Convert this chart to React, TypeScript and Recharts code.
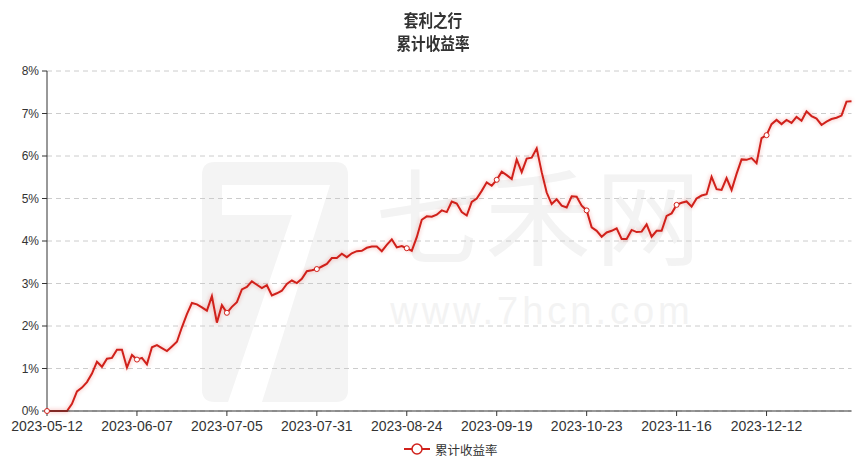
import React from 'react';
import { LineChart, Line, XAxis, YAxis, CartesianGrid } from 'recharts';

const titleLines = ['套利之行', '累计收益率'];
const seriesName = '累计收益率';

const dates = [
  '2023-05-12', '2023-05-15', '2023-05-16', '2023-05-17', '2023-05-18', '2023-05-19',
  '2023-05-22', '2023-05-23', '2023-05-24', '2023-05-25', '2023-05-26',
  '2023-05-29', '2023-05-30', '2023-05-31', '2023-06-01', '2023-06-02',
  '2023-06-05', '2023-06-06', '2023-06-07', '2023-06-08', '2023-06-09',
  '2023-06-12', '2023-06-13', '2023-06-14', '2023-06-15', '2023-06-16',
  '2023-06-19', '2023-06-20', '2023-06-21',
  '2023-06-26', '2023-06-27', '2023-06-28', '2023-06-29', '2023-06-30',
  '2023-07-03', '2023-07-04', '2023-07-05', '2023-07-06', '2023-07-07',
  '2023-07-10', '2023-07-11', '2023-07-12', '2023-07-13', '2023-07-14',
  '2023-07-17', '2023-07-18', '2023-07-19', '2023-07-20', '2023-07-21',
  '2023-07-24', '2023-07-25', '2023-07-26', '2023-07-27', '2023-07-28',
  '2023-07-31', '2023-08-01', '2023-08-02', '2023-08-03', '2023-08-04',
  '2023-08-07', '2023-08-08', '2023-08-09', '2023-08-10', '2023-08-11',
  '2023-08-14', '2023-08-15', '2023-08-16', '2023-08-17', '2023-08-18',
  '2023-08-21', '2023-08-22', '2023-08-23', '2023-08-24', '2023-08-25',
  '2023-08-28', '2023-08-29', '2023-08-30', '2023-08-31', '2023-09-01',
  '2023-09-04', '2023-09-05', '2023-09-06', '2023-09-07', '2023-09-08',
  '2023-09-11', '2023-09-12', '2023-09-13', '2023-09-14', '2023-09-15',
  '2023-09-18', '2023-09-19', '2023-09-20', '2023-09-21', '2023-09-22',
  '2023-09-25', '2023-09-26', '2023-09-27', '2023-09-28',
  '2023-10-09', '2023-10-10', '2023-10-11', '2023-10-12', '2023-10-13',
  '2023-10-16', '2023-10-17', '2023-10-18', '2023-10-19', '2023-10-20',
  '2023-10-23', '2023-10-24', '2023-10-25', '2023-10-26', '2023-10-27',
  '2023-10-30', '2023-10-31', '2023-11-01', '2023-11-02', '2023-11-03',
  '2023-11-06', '2023-11-07', '2023-11-08', '2023-11-09', '2023-11-10',
  '2023-11-13', '2023-11-14', '2023-11-15', '2023-11-16', '2023-11-17',
  '2023-11-20', '2023-11-21', '2023-11-22', '2023-11-23', '2023-11-24',
  '2023-11-27', '2023-11-28', '2023-11-29', '2023-11-30', '2023-12-01',
  '2023-12-04', '2023-12-05', '2023-12-06', '2023-12-07', '2023-12-08',
  '2023-12-11', '2023-12-12', '2023-12-13', '2023-12-14', '2023-12-15',
  '2023-12-18', '2023-12-19', '2023-12-20', '2023-12-21', '2023-12-22',
  '2023-12-25', '2023-12-26', '2023-12-27', '2023-12-28', '2023-12-29',
  '2024-01-02', '2024-01-03', '2024-01-04', '2024-01-05',
];

const returns = [
  0, 0, 0, 0, 0, 0.17, 0.46, 0.55, 0.68, 0.88,
  1.16, 1.04, 1.23, 1.25, 1.44, 1.44, 1.02, 1.32, 1.21, 1.25,
  1.10, 1.50, 1.55, 1.48, 1.41, 1.52, 1.63, 1.97, 2.28, 2.54,
  2.51, 2.44, 2.36, 2.70, 2.08, 2.49, 2.31, 2.45, 2.56, 2.86,
  2.92, 3.05, 2.97, 2.89, 2.96, 2.72, 2.77, 2.83, 2.99, 3.07,
  3.01, 3.11, 3.29, 3.31, 3.34, 3.40, 3.46, 3.60, 3.60, 3.70,
  3.62, 3.71, 3.76, 3.77, 3.84, 3.87, 3.87, 3.76, 3.91, 4.04,
  3.85, 3.88, 3.83, 3.77, 4.09, 4.50, 4.58, 4.57, 4.62, 4.72,
  4.68, 4.93, 4.88, 4.68, 4.60, 4.92, 5.00, 5.18, 5.38, 5.30,
  5.44, 5.63, 5.55, 5.46, 5.92, 5.62, 5.94, 5.96, 6.18, 5.62,
  5.14, 4.87, 4.98, 4.83, 4.79, 5.05, 5.04, 4.83, 4.72, 4.32,
  4.24, 4.10, 4.20, 4.24, 4.30, 4.05, 4.05, 4.26, 4.21, 4.22,
  4.39, 4.10, 4.24, 4.24, 4.59, 4.65, 4.85, 4.90, 4.93, 4.81,
  5.00, 5.07, 5.10, 5.51, 5.22, 5.20, 5.48, 5.20, 5.58, 5.92,
  5.91, 5.95, 5.83, 6.42, 6.49, 6.75, 6.85, 6.75, 6.85, 6.78,
  6.92, 6.83, 7.05, 6.94, 6.88, 6.73, 6.81, 6.87, 6.90, 6.95,
  7.28, 7.29,
];

const yTicks = [0, 1, 2, 3, 4, 5, 6, 7, 8];

const data = dates.map((d, i) => ({ date: d, value: returns[i] }));

const RED = '#d0211b';
const FONT = '"Noto Sans CJK SC", "Noto Sans", sans-serif';
const TICK_FONT = '"Liberation Sans", Arial, sans-serif';

const MarkerDot = (props: any) => {
  const { cx, cy, index } = props;
  if (index % 18 !== 0 || cx == null) return <g key={`d${index}`} />;
  return (
    <circle key={`d${index}`} cx={cx} cy={cy} r={2.5} fill="#fff" stroke={RED} strokeWidth={1} />
  );
};

export default function App() {
  return (
    <div style={{ position: 'absolute', left: 0, top: 0, width: 866, height: 469, background: '#fff', fontFamily: FONT, overflow: 'hidden' }}>
      <style>{`.main-line .recharts-line-curve { filter: drop-shadow(0 0 2px rgba(230,60,50,0.45)); }`}</style>
      {/* watermark */}
      <svg width={866} height={469} style={{ position: 'absolute', left: 0, top: 0 }}>
        <path d="M215 162 L335 162 Q348 162 348 175 L348 390 Q348 402 336 402 L215 402 Q202 402 202 390 L202 175 Q202 162 215 162 Z" fill="#f4f4f4" />
        <path d="M222 185 L330 185 L262 402 L228 402 L292 215 L222 215 Z" fill="#ffffff" />
        <text x={540} y={257} textAnchor="middle" fontSize={106} letterSpacing={4} fill="#f3f3f3" fontFamily={FONT}>七禾网</text>
        <text x={542} y={324} textAnchor="middle" fontSize={38} letterSpacing={4} fill="#f3f3f3" fontFamily={TICK_FONT}>www.7hcn.com</text>
      </svg>
      <div style={{ position: 'absolute', left: 0, top: 0 }}>
        <LineChart width={866} height={469} data={data} margin={{ top: 71, right: 14.5, bottom: 0, left: 0 }}>
          <CartesianGrid vertical={false} stroke="#cccccc" strokeDasharray="5 4" />
          <XAxis
            dataKey="date"
            interval={17}
            height={58}
            tickSize={5}
            tickMargin={5}
            axisLine={{ stroke: '#333', strokeWidth: 1 }}
            tickLine={{ stroke: '#333' }}
            tick={{ fontSize: 14, fill: '#333', fontFamily: TICK_FONT }}
          />
          <YAxis
            width={47}
            domain={[0, 8]}
            ticks={yTicks}
            interval={0}
            tickFormatter={(v: number) => `${v}%`}
            tickSize={5}
            tickMargin={3}
            axisLine={{ stroke: '#333', strokeWidth: 1 }}
            tickLine={{ stroke: '#333' }}
            tick={{ fontSize: 12, fill: '#333', fontFamily: TICK_FONT }}
          />
          <Line
            className="main-line"
            type="linear"
            dataKey="value"
            name={seriesName}
            stroke={RED}
            strokeWidth={2}
            dot={<MarkerDot />}
            activeDot={false}
            isAnimationActive={false}
          />
        </LineChart>
      </div>
      {/* title */}
      <div style={{ position: 'absolute', left: 0, top: 8, width: 866, textAlign: 'center', fontSize: 17, fontWeight: 700, color: '#333', lineHeight: '23px', transform: 'scaleX(0.86)', transformOrigin: '433px 0' }}>
        <div>{titleLines[0]}</div>
        <div>{titleLines[1]}</div>
      </div>
      {/* legend */}
      <div style={{ position: 'absolute', left: 404, top: 440, height: 18, display: 'flex', alignItems: 'center' }}>
        <svg width={26} height={14}>
          <line x1={0} y1={7} x2={26} y2={7} stroke={RED} strokeWidth={2} />
          <circle cx={13} cy={7} r={5} fill="#fff" stroke={RED} strokeWidth={1.5} />
        </svg>
        <span style={{ marginLeft: 5, fontSize: 12.5, color: '#333' }}>{seriesName}</span>
      </div>
    </div>
  );
}
